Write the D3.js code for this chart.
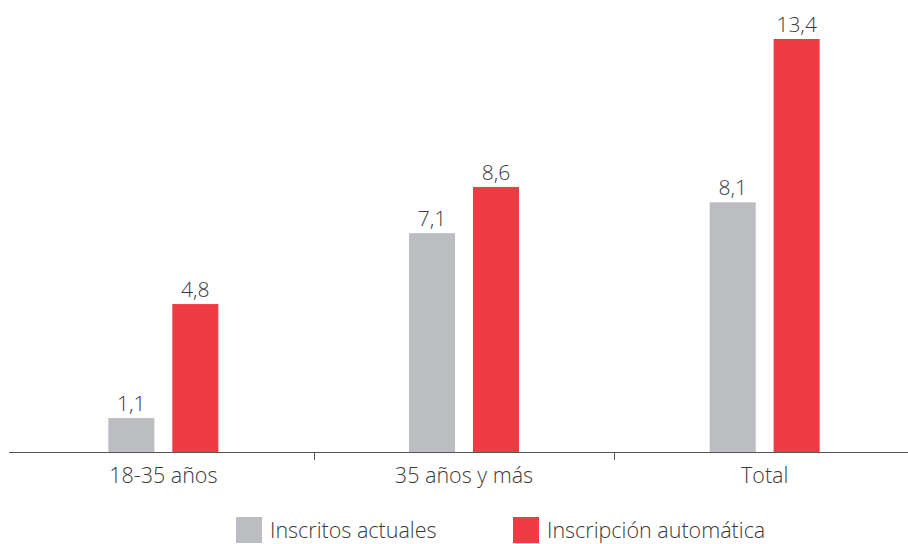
<!DOCTYPE html>
<html>
<head>
<meta charset="utf-8">
<script src="https://cdn.jsdelivr.net/npm/d3@7"></script>
<style>
  body { margin: 0; background: #fff; }
  svg text { font-family: "Open Sans", "Noto Sans", sans-serif; font-weight: 300; fill: #3a3a3a; }
</style>
</head>
<body>
<svg width="908" height="544"></svg>
<script>
const categories = ["18-35 años", "35 años y más", "Total"]
const series = ["Inscritos actuales", "Inscripción automática"]
const inscritos = [1.1, 7.1, 8.1]
const automatica = [4.8, 8.6, 13.4]
const colors = ["#bcbdc0", "#ee3b44"]

const width = 908
const height = 544
const baseY = 452

const svg = d3.select("svg")

const x0 = d3.scaleBand()
  .domain(categories)
  .range([13, 915])
  .padding(0)

const x1 = d3.scaleBand()
  .domain(series)
  .range([-55, 55])
  .paddingInner(0.28)

const y = d3.scaleLinear()
  .domain([0, 13.4])
  .range([baseY, 39])

const rows = categories.map(function (c, i) {
  return { cat: c, values: [inscritos[i], automatica[i]] }
})

const fmt = function (v) { return d3.format(".1f")(v).replace(".", ",") }

// bars
const grp = svg.append("g").selectAll("g")
  .data(rows)
  .enter()
  .append("g")
  .attr("transform", function (d) { return "translate(" + (x0(d.cat) + x0.bandwidth() / 2) + ",0)" })

grp.selectAll("rect")
  .data(function (d) { return d.values.map(function (v, j) { return { s: series[j], v: v, j: j } }) })
  .enter()
  .append("rect")
  .attr("x", function (d) { return x1(d.s) })
  .attr("width", x1.bandwidth())
  .attr("y", function (d) { return y(d.v) })
  .attr("height", function (d) { return baseY - y(d.v) })
  .attr("fill", function (d) { return colors[d.j] })

grp.selectAll("text")
  .data(function (d) { return d.values.map(function (v, j) { return { s: series[j], v: v } }) })
  .enter()
  .append("text")
  .attr("x", function (d) { return x1(d.s) + x1.bandwidth() / 2 })
  .attr("y", function (d) { return y(d.v) - 7 })
  .attr("text-anchor", "middle")
  .style("font-size", "21px")
  .text(function (d) { return fmt(d.v) })

// axis
const axis = svg.append("g")
axis.append("line")
  .attr("x1", 9).attr("x2", width)
  .attr("y1", baseY + 0.5).attr("y2", baseY + 0.5)
  .attr("stroke", "#555").attr("stroke-width", 1.2)

axis.selectAll(".tick")
  .data(categories.slice(1))
  .enter()
  .append("line")
  .attr("class", "tick")
  .attr("x1", function (d) { return Math.round(x0(d)) + 0.5 })
  .attr("x2", function (d) { return Math.round(x0(d)) + 0.5 })
  .attr("y1", baseY).attr("y2", baseY + 8)
  .attr("stroke", "#555")

axis.selectAll(".lab")
  .data(categories)
  .enter()
  .append("text")
  .attr("class", "lab")
  .attr("x", function (d) { return x0(d) + x0.bandwidth() / 2 })
  .attr("y", 483)
  .attr("text-anchor", "middle")
  .style("font-size", "21.5px")
  .text(function (d) { return d })

// legend
const legendX = [236, 513]
const legend = svg.append("g").selectAll("g")
  .data(series)
  .enter()
  .append("g")
  .attr("transform", function (d, i) { return "translate(" + legendX[i] + ",517)" })

legend.append("rect")
  .attr("width", 26).attr("height", 26)
  .attr("fill", function (d, i) { return colors[i] })

legend.append("text")
  .attr("x", 34)
  .attr("y", 21)
  .style("font-size", "21.5px")
  .text(function (d) { return d })
</script>
</body>
</html>
